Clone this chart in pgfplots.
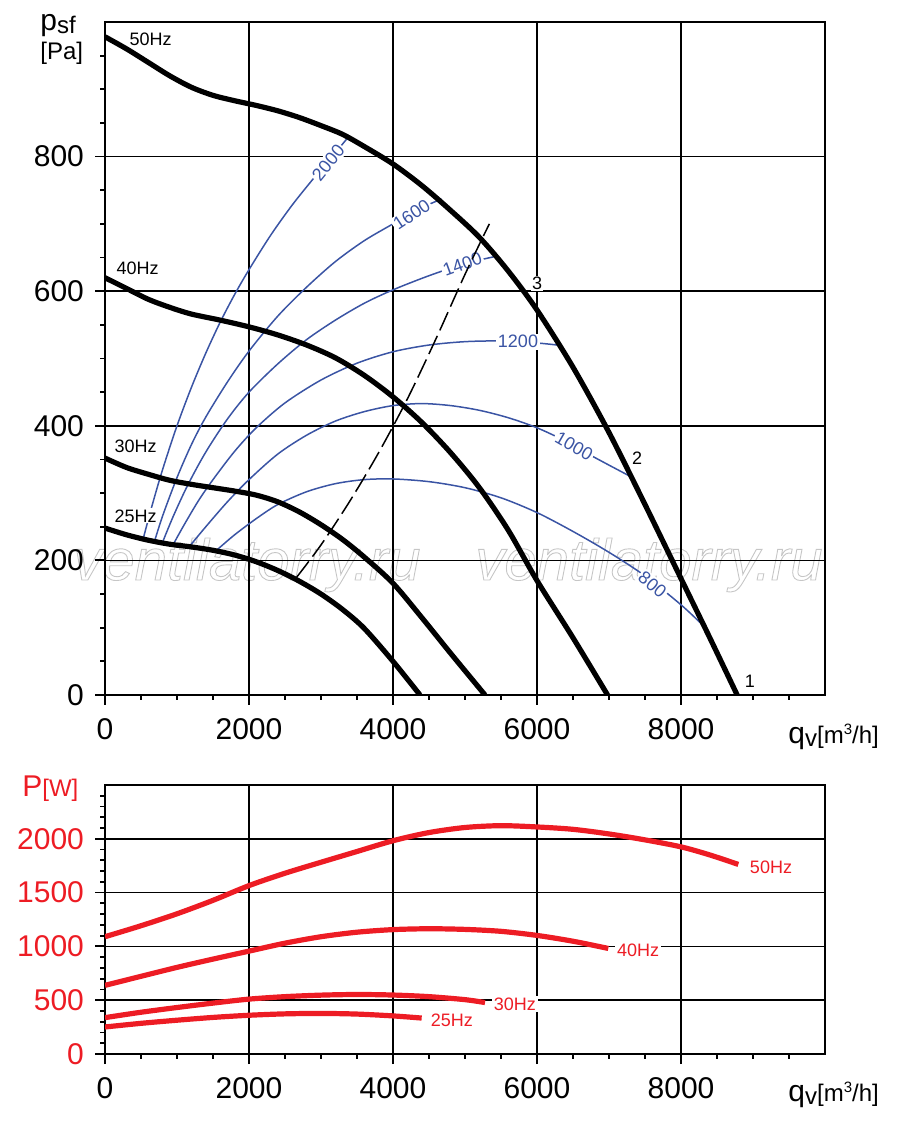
\documentclass[border=0pt]{standalone}
\usepackage{fontspec}
\setmainfont{Liberation Sans}
\usepackage{pgfplots}
\pgfplotsset{compat=1.18}
\definecolor{cblue}{RGB}{58,84,164}
\definecolor{cred}{RGB}{237,28,36}
\pgfplotsset{
 base/.style={scale only axis, width=360pt, xmin=0, xmax=10000,
  xtick={0,2000,4000,6000,8000}, minor xtick={500,1000,...,9500},
  tick pos=left, tick align=outside, major tick length=5pt, minor tick length=2.5pt,
  tick style={black, line width=0.9pt}, minor tick style={black, line width=0.9pt},
  grid=major, major grid style={black, line width=0.75pt},
  axis line style={black, line width=1.3pt},
  scaled ticks=false, /pgf/number format/1000 sep={},
  /pgf/number format/assume math mode=true,
  tick label style={font=\fontsize{15}{18}\selectfont},
  xticklabel style={yshift=-3pt}, yticklabel style={xshift=-2pt},
 },
 blk/.style={black, line width=2.6pt, smooth, no markers},
 blu/.style={cblue, line width=0.75pt, smooth, no markers},
 rd/.style={cred, line width=2.6pt, smooth, no markers},
}
\newcommand{\wm}{\special{pdf:literal direct 1 Tr 0.45 w}ventilatorry.ru\special{pdf:literal direct 0 Tr}}
\begin{document}
\begin{tikzpicture}
\path[use as bounding box] (0,0) rectangle (450pt,564pt);
\node[text=gray!45, font=\fontsize{29}{34}\selectfont\itshape] at (123.5pt,281.5pt) {\wm};
\node[text=gray!45, font=\fontsize{29}{34}\selectfont\itshape] at (324.5pt,281.5pt) {\wm};
% axis titles
\node[anchor=base west, inner sep=0pt] at (20pt,548.5pt) {\fontsize{15}{18}\selectfont p\raisebox{-1.5pt}{\fontsize{12}{14}\selectfont sf}};
\node[anchor=base west, inner sep=0pt] at (20pt,534pt) {\fontsize{12}{14}\selectfont [Pa]};
\node[anchor=base west, inner sep=0pt] at (394pt,192pt) {\fontsize{15}{18}\selectfont q\raisebox{-1.5pt}{\fontsize{12}{14}\selectfont v}\fontsize{12}{14}\selectfont[m\raisebox{4.5pt}{\fontsize{7.5}{8}\selectfont 3}/h]};
\node[anchor=base west, inner sep=0pt] at (394pt,13pt) {\fontsize{15}{18}\selectfont q\raisebox{-1.5pt}{\fontsize{12}{14}\selectfont v}\fontsize{12}{14}\selectfont[m\raisebox{4.5pt}{\fontsize{7.5}{8}\selectfont 3}/h]};
\node[anchor=base west, inner sep=0pt, text=cred] at (11pt,165.5pt) {\fontsize{15}{18}\selectfont P\fontsize{12}{14}\selectfont[W]};

\begin{axis}[base, at={(52.5pt,216.5pt)}, anchor=south west, height=336.5pt,
  ymin=0, ymax=1000, ytick={0,200,400,600,800}, minor ytick={50,100,...,950}]
% blue curves
\addplot[blu] coordinates {(523,229)(650,280)(800,335)(1000,400)(1200,457)(1400,508)(1600,554)(1800,595)(2000,632)(2300,683)(2600,728)(2900,768)(3200,806)(3380,829)};
\addplot[blu] coordinates {(681,226)(800,266)(1000,323)(1200,372)(1400,413)(1700,465)(2000,511)(2400,563)(2800,606)(3200,644)(3600,675)(4000,700)(4400,724)(4676,737)};
\addplot[blu] coordinates {(792,225)(950,266)(1150,312)(1400,361)(1700,410)(2000,450)(2400,492)(2800,528)(3200,557)(3600,582)(4000,602)(4500,623)(5000,641)(5440,652)};
\addplot[blu] coordinates {(944,223)(1100,253)(1300,289)(1500,320)(1800,362)(2100,397)(2500,434)(3000,468)(3500,493)(4000,510)(4500,520)(5000,525)(5500,526)(6000,523)(6280,520)};
\addplot[blu] coordinates {(1167,220)(1400,250)(1700,287)(2000,320)(2400,358)(2800,386)(3200,407)(3600,421)(4000,430)(4400,433)(4800,430)(5200,423)(5600,412)(6000,397)(6400,377)(6800,353)(7292,325)};
\addplot[blu] coordinates {(1560,216)(1800,238)(2100,262)(2400,283)(2800,302)(3200,314)(3600,320)(4000,321)(4500,317)(5000,308)(5500,293)(6000,271)(6500,243)(7000,212)(7500,177)(8000,134)(8310,103)};
% blue labels
\begin{scope}[every node/.style={fill=white, inner sep=0.8pt, text=cblue, font=\fontsize{9}{10}\selectfont}]
\node[rotate=50.7] at (3101,791) {2000};
\node[rotate=33.7] at (4259,714) {1600};
\node[rotate=19.8] at (4965,640) {1400};
\node at (5736,525) {1200};
\node[rotate=-30] at (6514,370) {1000};
\node[rotate=-39.8] at (7604,164) {800};
\end{scope}
% system curve
\addplot[black, line width=0.75pt, smooth, dash pattern=on 10pt off 3pt] coordinates {(2662,175)(3000,223)(3400,288)(3800,360)(4200,440)(4600,530)(5000,625)(5338,700)};
% black labels
\begin{scope}[every node/.style={inner sep=0.6pt, text=black, font=\fontsize{9}{10}\selectfont}]
\node[anchor=base west] at (319,965) {50Hz};
\node[anchor=base west] at (139,625) {40Hz};
\node[anchor=base west] at (111,360) {30Hz};
\node[anchor=base west, fill=white] at (111,257) {25Hz};
\node[fill=white] at (6000,612) {3};
\node[fill=white] at (7389,352) {2};
\node at (8958,21) {1};
\end{scope}
% fan curves
\addplot[blk] coordinates {(0,978)(300,960)(600,940)(900,920)(1200,903)(1500,891)(1800,883)(2100,876)(2400,868)(2700,858)(3000,846)(3300,833)(3600,815)(4000,789)(4400,757)(4800,720)(5200,680)(5600,630)(6000,572)(6500,487)(7000,390)(7500,283)(8000,173)(8400,85)(8780,0)};
\addplot[blk] coordinates {(0,620)(300,604)(600,588)(900,576)(1200,566)(1600,557)(2000,547)(2400,535)(2800,520)(3200,501)(3600,475)(4000,443)(4400,405)(4800,360)(5200,308)(5600,245)(6000,170)(6500,85)(6980,0)};
\addplot[blk] coordinates {(0,352)(300,338)(600,328)(900,319)(1200,313)(1500,308)(1800,303)(2100,297)(2400,287)(2700,272)(3000,253)(3300,231)(3600,205)(4000,166)(4400,115)(4800,62)(5278,0)};
\addplot[blk] coordinates {(0,248)(300,238)(600,230)(900,224)(1200,220)(1500,215)(1800,208)(2100,198)(2400,185)(2700,169)(3000,150)(3300,127)(3600,99)(4000,50)(4375,0)};
\end{axis}

\begin{axis}[base, at={(52.5pt,37pt)}, anchor=south west, height=134.5pt,
  ymin=0, ymax=2500, ytick={0,500,1000,1500,2000}, minor ytick={100,200,...,2400},
  yticklabel style={text=cred}]
\addplot[rd] coordinates {(0,1090)(500,1192)(1000,1303)(1500,1428)(2000,1565)(2500,1680)(3000,1782)(3500,1882)(4000,1982)(4500,2058)(5000,2105)(5500,2122)(6000,2110)(6500,2088)(7000,2045)(7500,1990)(8000,1925)(8400,1850)(8796,1762)};
\addplot[rd] coordinates {(0,638)(500,722)(1000,805)(1500,882)(2000,956)(2500,1030)(3000,1090)(3500,1132)(4000,1156)(4500,1164)(5000,1158)(5500,1140)(6000,1102)(6500,1048)(6990,981)};
\addplot[rd] coordinates {(0,338)(500,388)(1000,432)(1500,473)(2000,510)(2500,533)(3000,547)(3500,553)(4000,548)(4500,533)(5000,505)(5278,478)};
\addplot[rd] coordinates {(0,251)(500,285)(1000,314)(1500,340)(2000,360)(2500,373)(3000,377)(3500,371)(4000,354)(4398,334)};
\begin{scope}[every node/.style={inner sep=0.8pt, text=cred, font=\fontsize{9}{10}\selectfont}]
\node at (4819,313) {25Hz};
\node[fill=white] at (5694,461) {30Hz};
\node[fill=white] at (7403,963) {40Hz};
\node at (9250,1734) {50Hz};
\end{scope}
\end{axis}
\end{tikzpicture}
\end{document}
